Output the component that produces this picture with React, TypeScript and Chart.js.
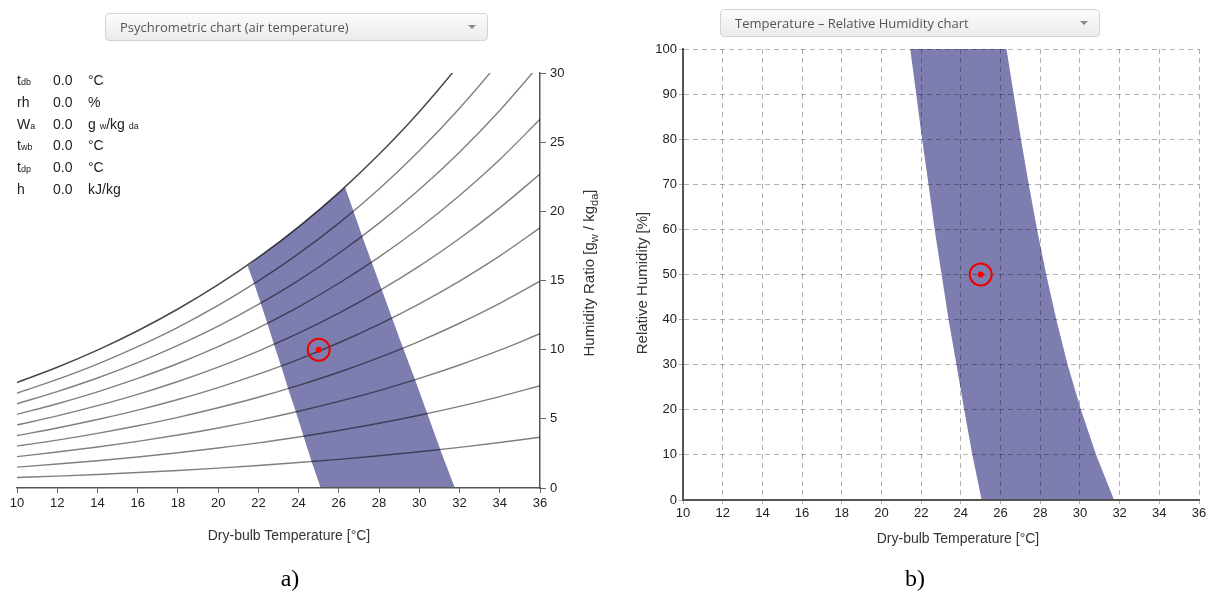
import React, { useEffect, useRef } from "react";
import { Chart, registerables } from "chart.js";

Chart.register(...registerables);

// ---------------- data ----------------
const temperatures = [10, 12, 14, 16, 18, 20, 22, 24, 26, 28, 30, 32, 34, 36];
const rhLevels = [10, 20, 30, 40, 50, 60, 70, 80, 90, 100];
// humidity ratio [g/kg] along each relative-humidity line, read at the temperatures above
const wRh10 = [0.76, 0.86, 0.98, 1.12, 1.27, 1.44, 1.63, 1.84, 2.07, 2.33, 2.62, 2.94, 3.29, 3.67];
const wRh20 = [1.51, 1.73, 1.97, 2.24, 2.55, 2.89, 3.26, 3.69, 4.16, 4.68, 5.26, 5.9, 6.61, 7.39];
const wRh30 = [2.27, 2.6, 2.96, 3.37, 3.83, 4.34, 4.91, 5.55, 6.26, 7.04, 7.92, 8.89, 9.96, 11.15];
const wRh40 = [3.03, 3.46, 3.95, 4.5, 5.11, 5.8, 6.56, 7.42, 8.37, 9.43, 10.6, 11.91, 13.35, 14.95];
const wRh50 = [3.79, 4.34, 4.95, 5.63, 6.4, 7.26, 8.23, 9.3, 10.5, 11.83, 13.31, 14.96, 16.78, 18.81];
const wRh60 = [4.56, 5.21, 5.95, 6.77, 7.7, 8.74, 9.9, 11.19, 12.64, 14.25, 16.04, 18.04, 20.25, 22.7];
const wRh70 = [5.32, 6.09, 6.95, 7.92, 9.0, 10.22, 11.58, 13.1, 14.8, 16.69, 18.8, 21.15, 23.75, 26.65];
const wRh80 = [6.09, 6.97, 7.95, 9.06, 10.31, 11.7, 13.27, 15.01, 16.97, 19.15, 21.58, 24.28, 27.29, 30.64];
const wRh90 = [6.86, 7.85, 8.96, 10.22, 11.62, 13.2, 14.97, 16.94, 19.15, 21.62, 24.38, 27.45, 30.87, 34.69];
const wRh100 = [7.63, 8.73, 9.97, 11.37, 12.94, 14.7, 16.67, 18.88, 21.35, 24.12, 27.2, 30.65, 34.49, 38.78];
const rhCurves = [wRh10, wRh20, wRh30, wRh40, wRh50, wRh60, wRh70, wRh80, wRh90, wRh100];

// comfort zone on the psychrometric chart (outline, T [°C] / W [g/kg])
const zoneT = [25.1, 24.65, 24.25, 23.87, 23.49, 23.14, 22.79, 22.46, 22.13, 21.8, 21.47, 22, 23, 24, 25, 26, 26.31, 27.22, 28.13, 29.04, 29.79, 30.45, 31.11, 31.77];
const zoneW = [0, 1.9, 3.73, 5.47, 7.14, 8.76, 10.32, 11.84, 13.31, 14.73, 16.05, 16.67, 17.74, 18.88, 20.08, 21.35, 21.75, 17.97, 14.35, 10.72, 7.83, 5.17, 2.51, 0];

// comfort zone on the temperature / relative humidity chart
const bandRh = [0, 10, 20, 30, 40, 50, 60, 70, 80, 90, 100];
const bandLeftT = [25.05, 24.58, 24.17, 23.78, 23.38, 23.03, 22.68, 22.37, 22.05, 21.75, 21.45];
const bandRightT = [31.72, 30.82, 30.05, 29.38, 28.81, 28.3, 27.84, 27.42, 27.03, 26.66, 26.3];

// current state point
const stateT = [25];
const stateW = [10];
const stateRh = [50];

// info panel
const infoLabels = ["tdb", "rh", "Wa", "twb", "tdp", "h"];
const infoValues = ["0.0", "0.0", "0.0", "0.0", "0.0", "0.0"];

const FONT = "'Liberation Sans', Arial, Helvetica, sans-serif";
const ZONE_COLOR = "rgba(19, 19, 111, 0.55)";
const TICK_FONT = { family: FONT, size: 13 };

function markerDatasets(xs: number[], ys: number[]) {
  const pts = xs.map((x, i) => ({ x, y: ys[i] }));
  return [
    {
      label: "state-dot",
      order: 0,
      data: pts,
      showLine: false,
      pointRadius: 3,
      pointHoverRadius: 3,
      pointBackgroundColor: "#ff0000",
      pointBorderWidth: 0,
      borderColor: "#ff0000",
    },
    {
      label: "state-ring",
      order: 0,
      data: pts,
      showLine: false,
      pointRadius: 11,
      pointHoverRadius: 11,
      pointBackgroundColor: "rgba(0,0,0,0)",
      pointBorderColor: "#ee0000",
      pointBorderWidth: 2,
      borderColor: "#ee0000",
    },
  ];
}

function App() {
  const leftRef = useRef<HTMLCanvasElement | null>(null);
  const rightRef = useRef<HTMLCanvasElement | null>(null);

  useEffect(() => {
    if (!leftRef.current || !rightRef.current) return;

    const curveSets = rhCurves.map((w, i) => ({
      label: rhLevels[i] + "%",
      order: 1,
      data: temperatures.map((t, j) => ({ x: t, y: w[j] })),
      showLine: true,
      borderColor: rhLevels[i] === 100 ? "rgba(0,0,0,0.72)" : "rgba(0,0,0,0.5)",
      borderWidth: rhLevels[i] === 100 ? 1.5 : 1.4,
      pointRadius: 0,
      cubicInterpolationMode: "monotone",
      fill: false,
    }));

    const zoneSet = {
      label: "zone",
      order: 5,
      data: zoneT.map((t, i) => ({ x: t, y: zoneW[i] })),
      showLine: true,
      borderWidth: 0,
      borderColor: "rgba(0,0,0,0)",
      backgroundColor: ZONE_COLOR,
      fill: "shape",
      pointRadius: 0,
      tension: 0,
    };

    const left = new Chart(leftRef.current, {
      type: "line",
      data: {
        datasets: [...markerDatasets(stateT, stateW), ...curveSets, zoneSet] as any,
      },
      options: {
        responsive: false,
        animation: false,
        events: [],
        layout: { padding: { left: 17, top: 73, right: 40, bottom: 48 } },
        plugins: {
          legend: { display: false },
          tooltip: { enabled: false },
          filler: { drawTime: "beforeDraw" },
        },
        scales: {
          x: {
            type: "linear",
            min: 10,
            max: 36,
            ticks: { stepSize: 2, color: "#222", font: TICK_FONT, padding: 3, maxRotation: 0, autoSkip: false },
            grid: { display: true, drawOnChartArea: false, drawTicks: true, tickLength: 5, color: "#666" },
            border: { display: true, color: "#555", width: 1.5 },
            afterFit: (s: any) => {
              s.height = 24;
            },
          },
          y: {
            type: "linear",
            position: "right",
            min: 0,
            max: 30,
            ticks: { stepSize: 5, color: "#222", font: TICK_FONT, padding: 4 },
            grid: { display: true, drawOnChartArea: false, drawTicks: true, tickLength: 6, color: "#666" },
            border: { display: true, color: "#555", width: 1.5 },
            afterFit: (s: any) => {
              s.width = 30;
            },
          },
        },
      } as any,
    });

    const bandPts = [
      ...bandLeftT.map((t, i) => ({ x: t, y: bandRh[i] })),
      ...bandRightT.map((t, i) => ({ x: t, y: bandRh[i] })).reverse(),
    ];
    const bandSet = {
      label: "zone",
      order: 5,
      data: bandPts,
      showLine: true,
      borderWidth: 0,
      borderColor: "rgba(0,0,0,0)",
      backgroundColor: ZONE_COLOR,
      fill: "shape",
      pointRadius: 0,
      tension: 0,
    };

    const right = new Chart(rightRef.current, {
      type: "line",
      data: { datasets: [...markerDatasets(stateT, stateRh), bandSet] as any },
      options: {
        responsive: false,
        animation: false,
        events: [],
        layout: { padding: { left: 33, top: 49, right: 20, bottom: 36 } },
        plugins: {
          legend: { display: false },
          tooltip: { enabled: false },
          filler: { drawTime: "beforeDraw" },
        },
        scales: {
          x: {
            type: "linear",
            min: 10,
            max: 36,
            ticks: { stepSize: 2, color: "#222", font: TICK_FONT, padding: 2, maxRotation: 0, autoSkip: false },
            grid: { color: "rgba(0,0,0,0.3)", lineWidth: 1, tickLength: 4 },
            border: { display: true, color: "#555", width: 2, dash: [5, 4] },
            afterFit: (s: any) => {
              s.height = 24;
            },
          },
          y: {
            type: "linear",
            min: 0,
            max: 100,
            ticks: { stepSize: 10, color: "#222", font: TICK_FONT, padding: 2 },
            grid: { color: "rgba(0,0,0,0.3)", lineWidth: 1, tickLength: 4 },
            border: { display: true, color: "#555", width: 2, dash: [5, 4] },
            afterFit: (s: any) => {
              s.width = 30;
            },
          },
        },
      } as any,
    });

    return () => {
      left.destroy();
      right.destroy();
    };
  }, []);

  const abs = (left: number, top: number): React.CSSProperties => ({ position: "absolute", left, top });

  const dropdown = (left: number, top: number, width: number, height: number, text: string) => (
    <div
      style={{
        ...abs(left, top),
        width,
        height,
        boxSizing: "border-box",
        border: "1px solid #d4d4d4",
        borderRadius: 4,
        background: "linear-gradient(#fcfcfc, #ebebeb)",
        fontFamily: "'Open Sans', 'DejaVu Sans', sans-serif",
        fontSize: 13,
        color: "#555",
        lineHeight: height - 2 + "px",
        paddingLeft: 14,
        whiteSpace: "nowrap",
      }}
    >
      {text}
      <div
        style={{
          position: "absolute",
          right: 11,
          top: (height - 2) / 2 - 2,
          width: 0,
          height: 0,
          borderLeft: "4px solid transparent",
          borderRight: "4px solid transparent",
          borderTop: "4px solid #888",
        }}
      />
    </div>
  );

  const sub = (s: string) => <span style={{ fontSize: 9 }}>{s}</span>;
  const labelNode = (l: string) => {
    if (l === "tdb") return <>t{sub("db")}</>;
    if (l === "Wa") return <>W{sub("a")}</>;
    if (l === "twb") return <>t{sub("wb")}</>;
    if (l === "tdp") return <>t{sub("dp")}</>;
    return <>{l}</>;
  };
  const unitNode = (l: string) => {
    if (l === "rh") return <>%</>;
    if (l === "Wa") return <>g {sub("w")}/kg {sub("da")}</>;
    if (l === "h") return <>kJ/kg</>;
    return <>°C</>;
  };

  const titleStyle: React.CSSProperties = {
    position: "absolute",
    fontFamily: FONT,
    fontSize: 14,
    color: "#333",
    whiteSpace: "nowrap",
  };

  return (
    <div
      style={{
        position: "fixed",
        left: 0,
        top: 0,
        width: 1219,
        height: 598,
        background: "#ffffff",
        overflow: "hidden",
      }}
    >
      <canvas ref={leftRef} width={610} height={560} style={{ ...abs(0, 0), width: 610, height: 560 }} />
      <canvas ref={rightRef} width={599} height={560} style={{ ...abs(620, 0), width: 599, height: 560 }} />

      {dropdown(105, 13, 383, 28, "Psychrometric chart (air temperature)")}
      {dropdown(720, 9, 380, 28, "Temperature – Relative Humidity chart")}

      {infoLabels.map((l, i) => (
        <div
          key={l}
          style={{
            ...abs(17, 69 + i * 21.8),
            height: 22,
            lineHeight: "22px",
            fontFamily: FONT,
            fontSize: 14,
            color: "#222",
            whiteSpace: "nowrap",
          }}
        >
          <span style={{ position: "absolute", left: 0 }}>{labelNode(l)}</span>
          <span style={{ position: "absolute", left: 36 }}>{infoValues[i]}</span>
          <span style={{ position: "absolute", left: 71 }}>{unitNode(l)}</span>
        </div>
      ))}

      <div style={{ ...titleStyle, left: 289, top: 535, transform: "translate(-50%, -50%)" }}>
        Dry-bulb Temperature [°C]
      </div>
      <div style={{ ...titleStyle, left: 958, top: 538, transform: "translate(-50%, -50%)" }}>
        Dry-bulb Temperature [°C]
      </div>
      <div style={{ ...titleStyle, fontSize: 15, left: 590, top: 273, transform: "translate(-50%, -50%) rotate(-90deg)" }}>
        Humidity Ratio [g<sub style={{ fontSize: 11 }}>w</sub> / kg<sub style={{ fontSize: 11 }}>da</sub>]
      </div>
      <div style={{ ...titleStyle, fontSize: 15, left: 641, top: 283, transform: "translate(-50%, -50%) rotate(-90deg)" }}>
        Relative Humidity [%]
      </div>

      <div
        style={{
          position: "absolute",
          left: 290,
          top: 578,
          transform: "translate(-50%, -50%)",
          fontFamily: "'Liberation Serif', 'Times New Roman', serif",
          fontSize: 24,
          color: "#000",
        }}
      >
        a)
      </div>
      <div
        style={{
          position: "absolute",
          left: 915,
          top: 578,
          transform: "translate(-50%, -50%)",
          fontFamily: "'Liberation Serif', 'Times New Roman', serif",
          fontSize: 24,
          color: "#000",
        }}
      >
        b)
      </div>
    </div>
  );
}

export default App;
